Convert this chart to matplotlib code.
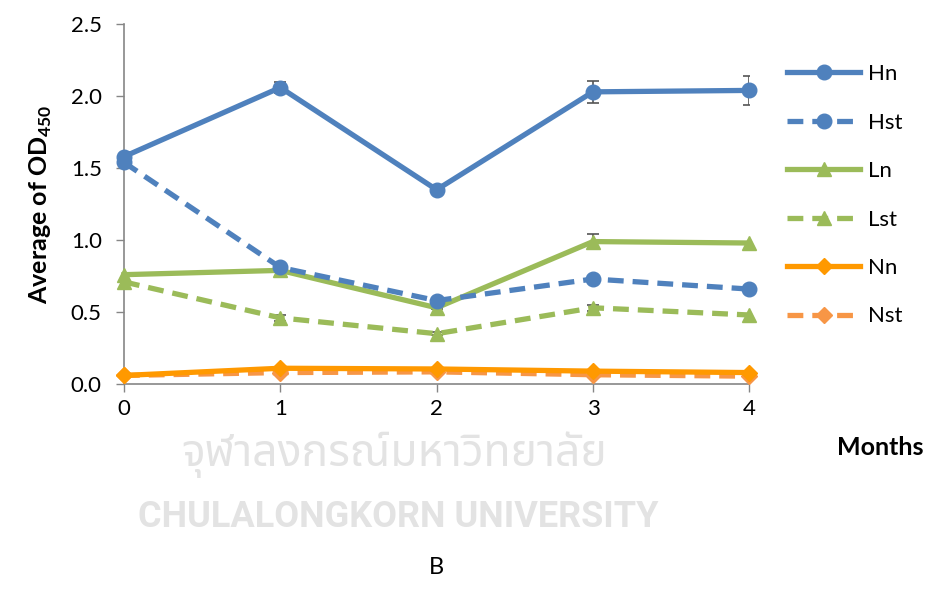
import matplotlib
matplotlib.use("Agg")
import matplotlib.pyplot as plt

plt.rcParams["font.family"] = ["Lato", "DejaVu Sans"]
plt.rcParams["mathtext.fontset"] = "custom"
plt.rcParams["mathtext.bf"] = "Lato:bold"
plt.rcParams["mathtext.rm"] = "Lato"

months = [0, 1, 2, 3, 4]
series_names = ["Hn", "Hst", "Ln", "Lst", "Nn", "Nst"]

hn = [1.58, 2.06, 1.35, 2.03, 2.04]
hst = [1.54, 0.81, 0.58, 0.73, 0.66]
ln = [0.76, 0.79, 0.53, 0.99, 0.98]
lst = [0.71, 0.46, 0.35, 0.53, 0.48]
nn = [0.06, 0.11, 0.105, 0.09, 0.08]
nst = [0.06, 0.08, 0.085, 0.065, 0.055]

hn_err = [0.03, 0.04, 0.01, 0.075, 0.1]
hst_err = [0.02, 0.02, 0.01, 0.02, 0.01]
ln_err = [0.01, 0.01, 0.01, 0.05, 0.01]
lst_err = [0.01, 0.02, 0.01, 0.02, 0.01]
nn_err = [0.0, 0.0, 0.0, 0.0, 0.0]
nst_err = [0.0, 0.0, 0.0, 0.0, 0.0]

blue = "#4F81BD"
green = "#9BBB59"
orange = "#FF9900"
light_orange = "#F79646"

styles = [
    (hn, hn_err, blue, "-", "o", 10.5),
    (hst, hst_err, blue, (0, (3.0, 1.7)), "o", 10.5),
    (ln, ln_err, green, "-", "^", 10.5),
    (lst, lst_err, green, (0, (3.0, 1.7)), "^", 10.5),
    (nn, nn_err, orange, "-", "D", 8),
    (nst, nst_err, light_orange, (0, (3.0, 1.7)), "D", 8),
]

fig = plt.figure(figsize=(9.39, 5.9), dpi=100)
ax = fig.add_axes([0.132, 0.349, 0.666, 0.61])

# draw bottom series first so the blue lines end up on top
for name, (vals, errs, color, ls, marker, ms) in reversed(list(zip(series_names, styles))):
    ax.errorbar(months, vals, yerr=errs, fmt="none", ecolor="#555555",
                elinewidth=1.2, capsize=4, capthick=1.2, zorder=2)
    ax.plot(months, vals, color=color, linestyle=ls, linewidth=3.8,
            marker=marker, markersize=ms, label=name, zorder=3,
            clip_on=False)

ax.set_xlim(0, 4)
ax.set_ylim(0, 2.5)
ax.set_xticks(months)
ax.set_yticks([0, 0.5, 1.0, 1.5, 2.0, 2.5])
ax.set_yticklabels(["0.0", "0.5", "1.0", "1.5", "2.0", "2.5"])
ax.tick_params(labelsize=16, colors="#868686", labelcolor="black", length=6, width=1)
ax.tick_params(axis="x", pad=5)
ax.tick_params(axis="y", pad=10)
for side in ["top", "right"]:
    ax.spines[side].set_visible(False)
for side in ["left", "bottom"]:
    ax.spines[side].set_color("#868686")
    ax.spines[side].set_linewidth(1.2)

ax.set_ylabel(r"Average of OD$_{\mathbf{450}}$", fontsize=18, fontweight="bold", labelpad=12)

handles, labels = ax.get_legend_handles_labels()
order = [labels.index(n) for n in series_names]
fig.legend([handles[i] for i in order], [labels[i] for i in order],
           loc="upper left", bbox_to_anchor=(0.817, 0.925), frameon=False,
           fontsize=16, handlelength=3.3, labelspacing=1.28, handletextpad=0.35)

fig.text(0.937, 0.242, "Months", fontsize=18, fontweight="bold", ha="center", va="center")
fig.text(0.465, 0.02, "B", fontsize=17, ha="center", va="bottom")

# watermark
fig.text(0.42, 0.229, "จุฬาลงกรณ์มหาวิทยาลัย", fontsize=32, fontweight="bold",
         color="#E3E3E3", ha="center", va="center", zorder=0,
         family=["Noto Sans Thai", "Loma", "Garuda", "Noto Sans", "DejaVu Sans"])
fig.text(0.424, 0.124, "CHULALONGKORN UNIVERSITY", fontsize=26, fontweight="bold",
         color="#E3E3E3", ha="center", va="center", zorder=0, family="Roboto",
         fontstretch="condensed")

fig.savefig("out.png", dpi=100)
